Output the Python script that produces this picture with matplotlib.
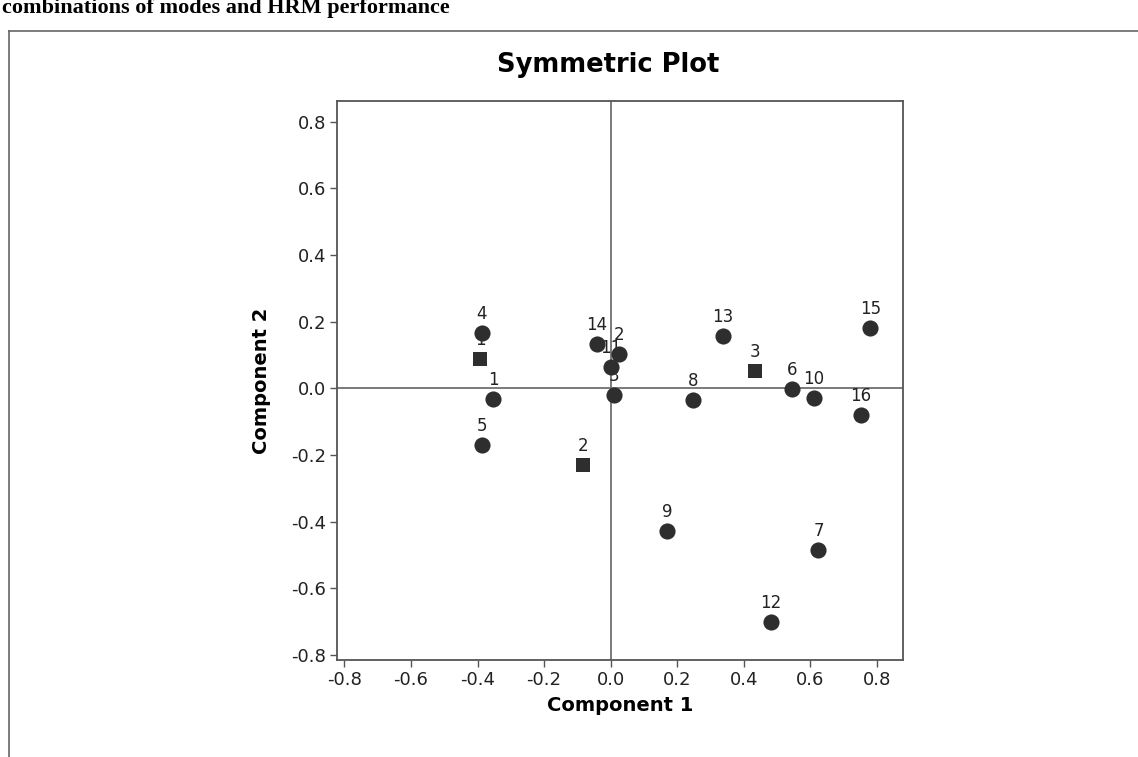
import numpy as np
import matplotlib.pyplot as plt
from matplotlib.lines import Line2D

plt.rcParams['font.family'] = ['DejaVu Sans']
plt.rcParams['axes.unicode_minus'] = False

# row points (circles)
row_labels = ['1', '2', '3', '4', '5', '6', '7', '8', '9', '10', '11', '12', '13', '14', '15', '16']
row_x = [-0.353, 0.026, 0.011, -0.387, -0.385, 0.544, 0.624, 0.247, 0.169, 0.611, 0.000, 0.481, 0.336, -0.041, 0.780, 0.751]
row_y = [-0.033, 0.104, -0.021, 0.166, -0.169, -0.001, -0.486, -0.034, -0.429, -0.029, 0.064, -0.702, 0.156, 0.134, 0.182, -0.080]

# column points (squares)
col_labels = ['1', '2', '3']
col_x = [-0.391, -0.082, 0.434]
col_y = [0.089, -0.229, 0.052]

ticks = [-0.8, -0.6, -0.4, -0.2, 0.0, 0.2, 0.4, 0.6, 0.8]

fig = plt.figure(figsize=(11.38, 7.57), dpi=100)
ax = fig.add_axes([337 / 1138, 1 - 660 / 757, (903 - 337) / 1138, (660 - 101) / 757])

ax.axhline(0, color='#707070', lw=1.3, zorder=1)
ax.axvline(0, color='#707070', lw=1.3, zorder=1)

mark_col = '#2e2e2e'
ax.scatter(row_x, row_y, s=135, marker='o', color=mark_col, zorder=3, linewidths=0)
ax.scatter(col_x, col_y, s=90, marker='s', color=mark_col, zorder=3, linewidths=0)

for lab, x, y in zip(row_labels + col_labels, row_x + col_x, row_y + col_y):
    ax.annotate(lab, (x, y), xytext=(0, 10), textcoords='offset points',
                ha='center', va='baseline', fontsize=12, color='#222222', zorder=2)

ax.set_xlim(-0.822, 0.878)
ax.set_ylim(-0.815, 0.862)
ax.set_xticks(ticks)
ax.set_yticks(ticks)
ax.set_xticklabels(['%.1f' % t for t in ticks])
ax.set_yticklabels(['%.1f' % t for t in ticks])
ax.tick_params(direction='out', length=5, width=1, color='#555555', labelsize=13, labelcolor='#222222', pad=3)
for sp in ax.spines.values():
    sp.set_color('#555555')
    sp.set_linewidth(1.3)

ax.set_xlabel('Component 1', fontsize=14, fontweight='bold', labelpad=5)
ax.set_ylabel('Component 2', fontsize=14, fontweight='bold', labelpad=14)
fig.text(608 / 1138, 1 - 65 / 757, 'Symmetric Plot', ha='center', va='center', fontsize=18.5, fontweight='bold')

# page context: cut-off caption and frame
fig.text(0.002, 1 - 13 / 757, 'combinations of modes and HRM performance', ha='left', va='baseline',
         fontsize=16, fontweight='bold', family='Liberation Serif')
fig.add_artist(Line2D([9 / 1138, 1], [1 - 31 / 757] * 2, transform=fig.transFigure, color='#666666', lw=1.2))
fig.add_artist(Line2D([9 / 1138] * 2, [0, 1 - 31 / 757], transform=fig.transFigure, color='#666666', lw=1.2))

fig.savefig('out.png', dpi=100)
